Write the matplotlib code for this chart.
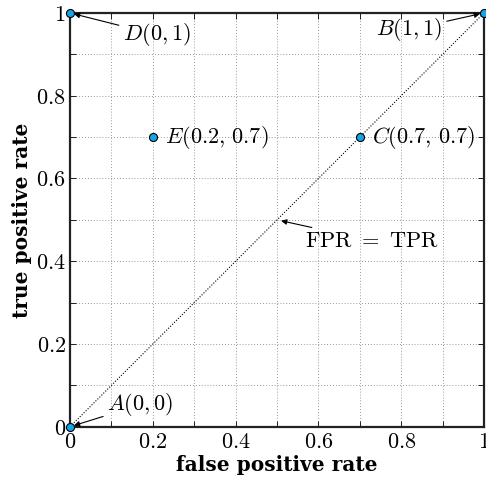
import matplotlib
matplotlib.use("Agg")
import matplotlib.pyplot as plt
import numpy as np

plt.rcParams["mathtext.fontset"] = "cm"

# ROC points
names = ["A", "B", "C", "D", "E"]
fpr = [0.0, 1.0, 0.7, 0.0, 0.2]
tpr = [0.0, 1.0, 0.7, 1.0, 0.7]
diag_x = [0.0, 1.0]
diag_y = [0.0, 1.0]
ticks = [0.0, 0.2, 0.4, 0.6, 0.8, 1.0]
tick_labels = ["0", "0.2", "0.4", "0.6", "0.8", "1"]
minor = np.arange(0, 1.01, 0.1)

MARK = "#14a5e6"
FS = 16

fig = plt.figure(figsize=(4.86, 4.79), dpi=100)
ax = fig.add_axes([0.144, 0.109, 0.852, 0.864])

ax.plot(diag_x, diag_y, color="black", ls=(0, (1, 1.5)), lw=0.8)
ax.plot(fpr, tpr, "o", ms=5.8, mfc=MARK, mec="black", mew=0.8, clip_on=False, zorder=5)

ax.set_xlim(0, 1)
ax.set_ylim(0, 1)
ax.set_xticks(ticks)
ax.set_yticks(ticks)
ax.set_xticks(minor, minor=True)
ax.set_yticks(minor, minor=True)
ax.set_xticklabels([f"${t}$" for t in tick_labels], fontsize=FS)
ax.set_yticklabels([f"${t}$" for t in tick_labels], fontsize=FS)
ax.tick_params(which="both", direction="in", top=True, right=True, length=4, width=0.6)
ax.tick_params(axis="x", pad=4)
ax.tick_params(axis="y", pad=3)
ax.grid(which="both", color="#777777", ls=(0, (1, 2.5)), lw=0.6)
for s in ax.spines.values():
    s.set_linewidth(1.6)
    s.set_color("#222222")

ax.set_xlabel("false positive rate", fontfamily="DejaVu Serif", fontweight="bold",
              fontsize=14.5, labelpad=2)
ax.set_ylabel("true positive rate", fontfamily="DejaVu Serif", fontweight="bold",
              fontsize=14.5, labelpad=3)

arrow = dict(arrowstyle="-|>", color="black", lw=0.8, mutation_scale=8, shrinkA=1, shrinkB=3)
ax.annotate(r"$D(0,1)$", xy=(fpr[3], tpr[3]), xytext=(0.128, 0.947), fontsize=FS,
            va="center", ha="left", arrowprops=arrow)
ax.annotate(r"$B(1,1)$", xy=(fpr[1], tpr[1]), xytext=(0.9, 0.96), fontsize=FS,
            va="center", ha="right", arrowprops=arrow)
ax.annotate(r"$A(0,0)$", xy=(fpr[0], tpr[0]), xytext=(0.09, 0.053), fontsize=FS,
            va="center", ha="left", arrowprops=arrow)
ax.annotate(r"$\mathrm{FPR}\ =\ \mathrm{TPR}$", xy=(0.5, 0.5), xytext=(0.567, 0.45), fontsize=FS,
            va="center", ha="left", arrowprops=arrow)
ax.annotate(r"$E(0.2,\,0.7)$", xy=(fpr[4], tpr[4]), xytext=(0.23, 0.7), fontsize=FS,
            va="center", ha="left")
ax.annotate(r"$C(0.7,\,0.7)$", xy=(fpr[2], tpr[2]), xytext=(0.73, 0.7), fontsize=FS,
            va="center", ha="left")

fig.savefig("out.png", dpi=100)
